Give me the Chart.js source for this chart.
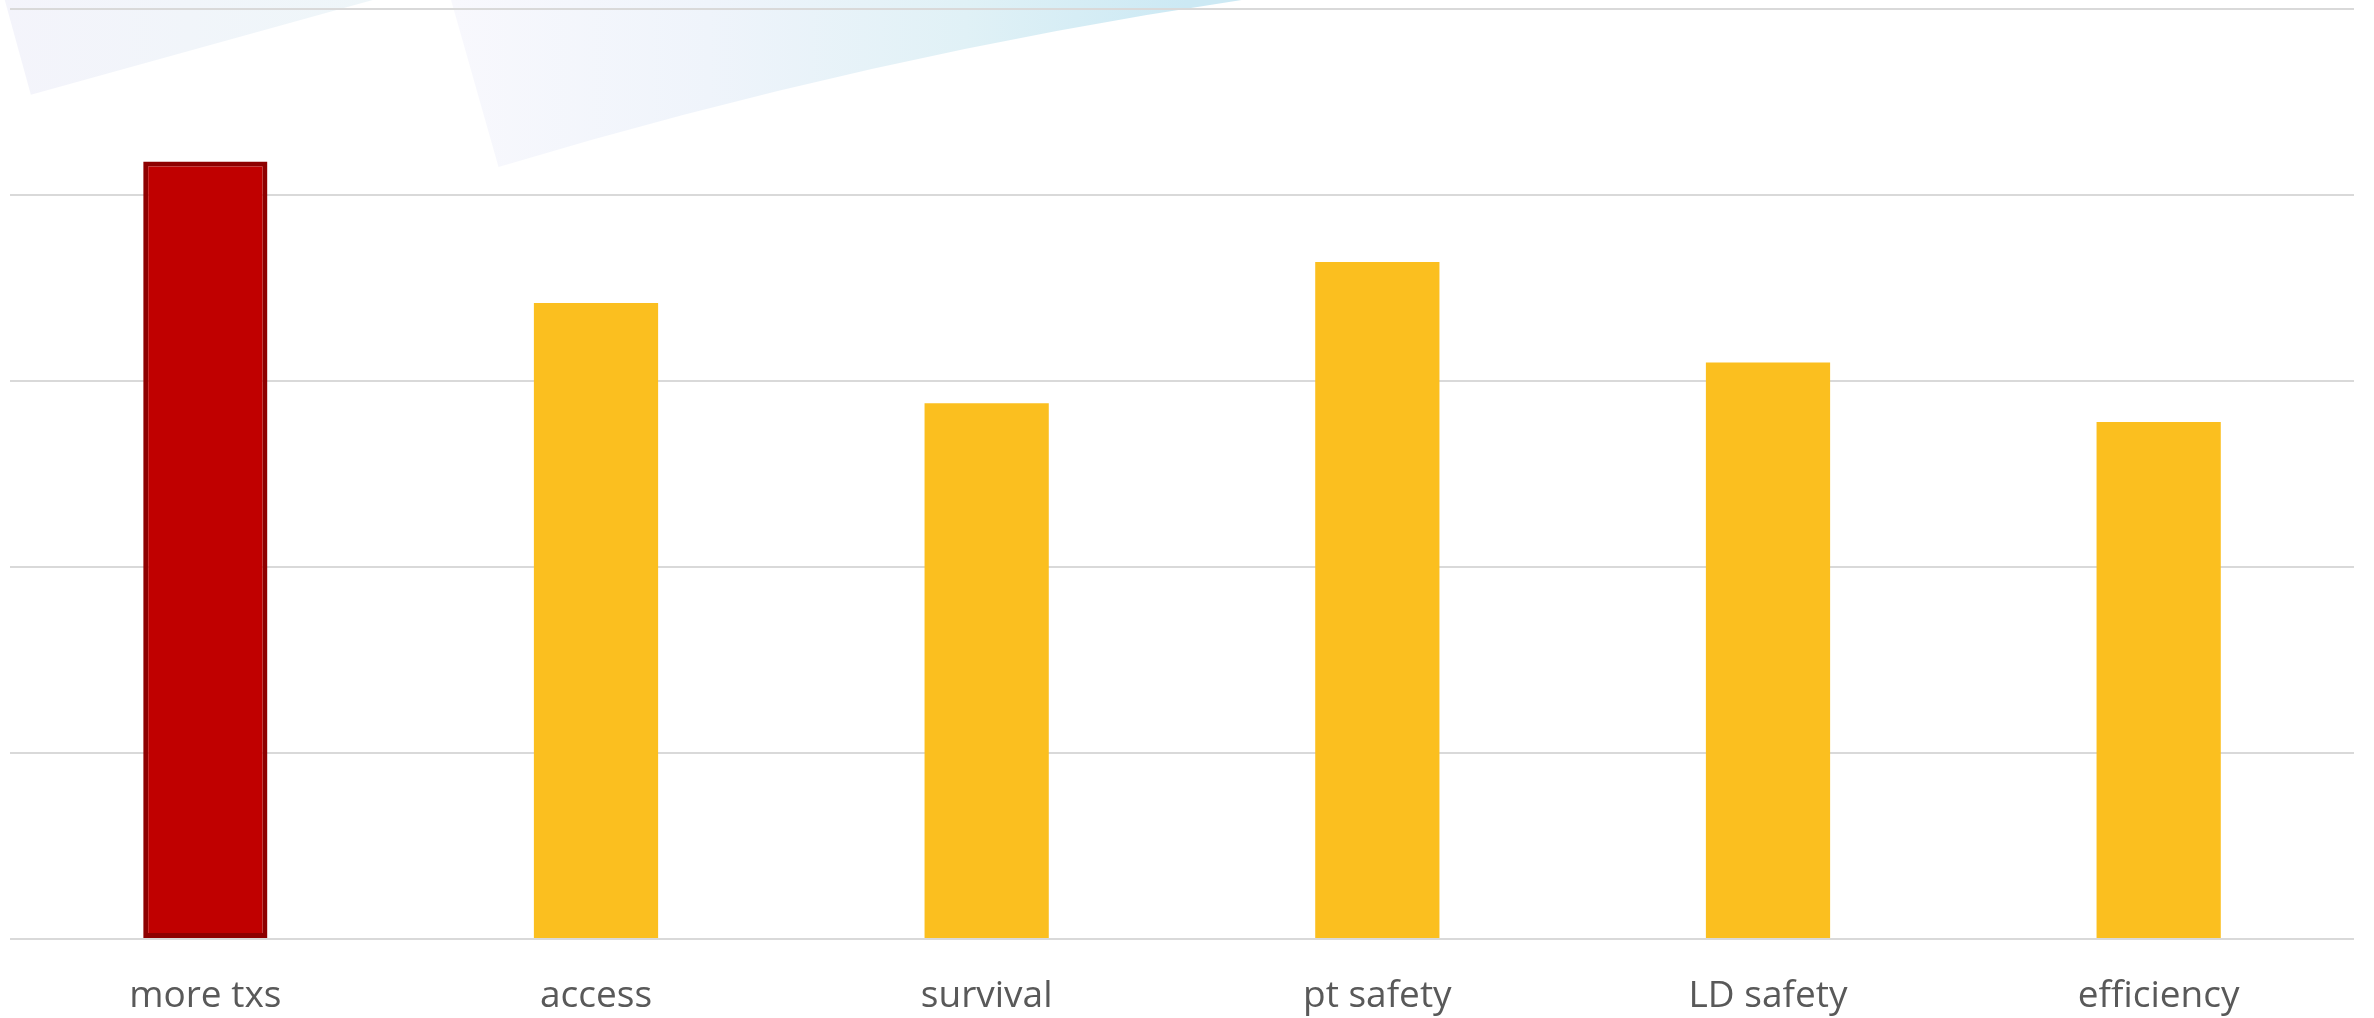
<!DOCTYPE html>
<html>
<head>
<meta charset="utf-8">
<script src="https://cdn.jsdelivr.net/npm/chart.js@4/dist/chart.umd.min.js"></script>
<style>
    html, body { margin: 0; padding: 0; background: #ffffff; }
    #wrap { position: relative; width: 2374px; height: 1018px; }
</style>
</head>
<body>
<div id="wrap"><canvas id="outcomeChart"></canvas></div>
<script>
// Categories and values
const categories = ['more txs', 'access', 'survival', 'pt safety', 'LD safety', 'efficiency'];
const scores = [4.18, 3.42, 2.88, 3.64, 3.10, 2.78];
const highlightIndex = 0;

const yMin = 0;
const yMax = 5;
const yStep = 1;

const barFill = categories.map((c, i) => i === highlightIndex ? '#C00000' : '#FBBF1F');
const barEdge = categories.map((c, i) => i === highlightIndex ? '#8E0000' : '#FBBF1F');
const barEdgeWidth = categories.map((c, i) => i === highlightIndex ? 5 : 0);

// Soft slide-style swooshes behind the plot, sized from the canvas
const swooshPlugin = {
    id: 'swooshes',
    beforeDraw(chart) {
        const { ctx, width, height } = chart;
        const fx = v => v * width;
        const fy = v => v * height;
        ctx.save();

        // left wedge
        let g = ctx.createLinearGradient(fx(0), 0, fx(0.16), 0);
        g.addColorStop(0, '#f4f4fb');
        g.addColorStop(1, '#eef6f9');
        ctx.fillStyle = g;
        ctx.beginPath();
        ctx.moveTo(fx(0.002), 0);
        ctx.lineTo(fx(0.157), 0);
        ctx.lineTo(fx(0.013), fy(0.093));
        ctx.closePath();
        ctx.fill();

        // larger curved swoosh
        g = ctx.createLinearGradient(fx(0.19), 0, fx(0.5), 0);
        g.addColorStop(0, '#f8f8fd');
        g.addColorStop(0.35, '#eff4fb');
        g.addColorStop(0.7, '#e0f1f6');
        g.addColorStop(1, '#cce9f4');
        ctx.fillStyle = g;
        ctx.beginPath();
        ctx.moveTo(fx(0.19), 0);
        ctx.lineTo(fx(0.523), 0);
        ctx.quadraticCurveTo(fx(0.367), fy(0.054), fx(0.21), fy(0.164));
        ctx.closePath();
        ctx.fill();

        ctx.restore();
    }
};

const ctx = document.getElementById('outcomeChart').getContext('2d');

new Chart(ctx, {
    type: 'bar',
    data: {
        labels: categories,
        datasets: [{
            data: scores,
            backgroundColor: barFill,
            borderColor: barEdge,
            borderWidth: barEdgeWidth,
            borderSkipped: false,
            categoryPercentage: 1,
            barPercentage: 0.318
        }]
    },
    options: {
        responsive: true,
        maintainAspectRatio: false,
        animation: false,
        layout: {
            padding: { top: 9, left: 10, right: 20, bottom: 0 }
        },
        plugins: {
            legend: { display: false },
            tooltip: { enabled: false }
        },
        scales: {
            x: {
                grid: { display: false },
                border: { display: false },
                ticks: {
                    color: '#595959',
                    padding: 27,
                    maxRotation: 0,
                    font: { family: 'Open Sans', size: 37 }
                },
                // plot floor sits 79px above the bottom edge
                afterFit(scale) { scale.height = 79; }
            },
            y: {
                min: yMin,
                max: yMax,
                grid: {
                    color: '#d9d9d9',
                    lineWidth: 2,
                    drawTicks: false
                },
                border: { display: false },
                ticks: { display: false, stepSize: yStep }
            }
        }
    },
    plugins: [swooshPlugin]
});
</script>
</body>
</html>
